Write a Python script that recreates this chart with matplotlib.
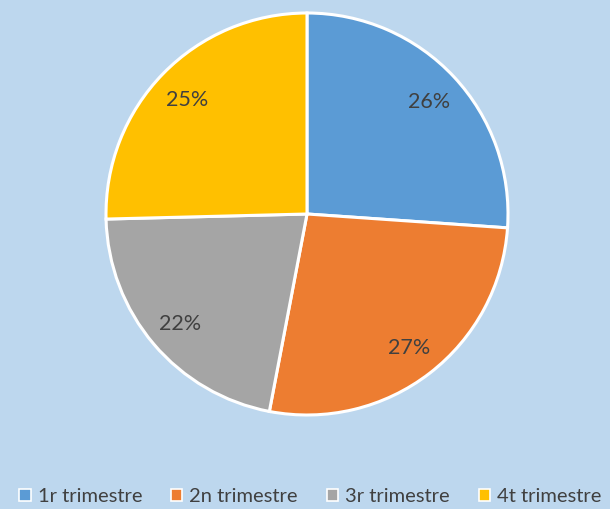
import matplotlib
matplotlib.use("Agg")
import matplotlib.pyplot as plt
from matplotlib.patches import Patch
import numpy as np

categories = ["1r trimestre", "2n trimestre", "3r trimestre", "4t trimestre"]
values = [26.1, 26.9, 21.6, 25.4]
labels = ["26%", "27%", "22%", "25%"]
colors = ["#5B9BD5", "#ED7D31", "#A5A5A5", "#FFC000"]
bg = "#BDD7EE"
txt = "#404040"

plt.rcParams['font.family'] = ['Lato', 'DejaVu Sans']

fig = plt.figure(figsize=(6.10, 5.09), dpi=100, facecolor=bg)
ax = fig.add_axes([106/610, (509-415)/509, 402/610, 402/509])
ax.set_facecolor(bg)
wedges, _ = ax.pie(values, colors=colors, startangle=90, counterclock=False,
                   radius=1.0, wedgeprops=dict(edgecolor="white", linewidth=2.2))
for w in wedges:
    w.set_clip_on(False)
for w, lab in zip(wedges, labels):
    ang = np.deg2rad((w.theta1 + w.theta2) / 2)
    ax.text(0.83*np.cos(ang), 0.83*np.sin(ang) - 0.01, lab, ha="center", va="center",
            fontsize=15.5, color=txt)
ax.set_xlim(-1.0, 1.0)
ax.set_ylim(-1.0, 1.0)
ax.set_aspect("equal")
ax.axis("off")

handles = [Patch(facecolor=c, edgecolor="white", linewidth=1.2) for c in colors]
leg = fig.legend(handles, categories, loc="center", ncol=4,
                 bbox_to_anchor=(0.509, 1 - 497/509), frameon=False, fontsize=14.5,
                 handlelength=0.55, handleheight=0.55, handletextpad=0.35,
                 columnspacing=1.45, labelcolor=txt, borderpad=0)
fig.savefig("out.png", dpi=100, facecolor=bg)
